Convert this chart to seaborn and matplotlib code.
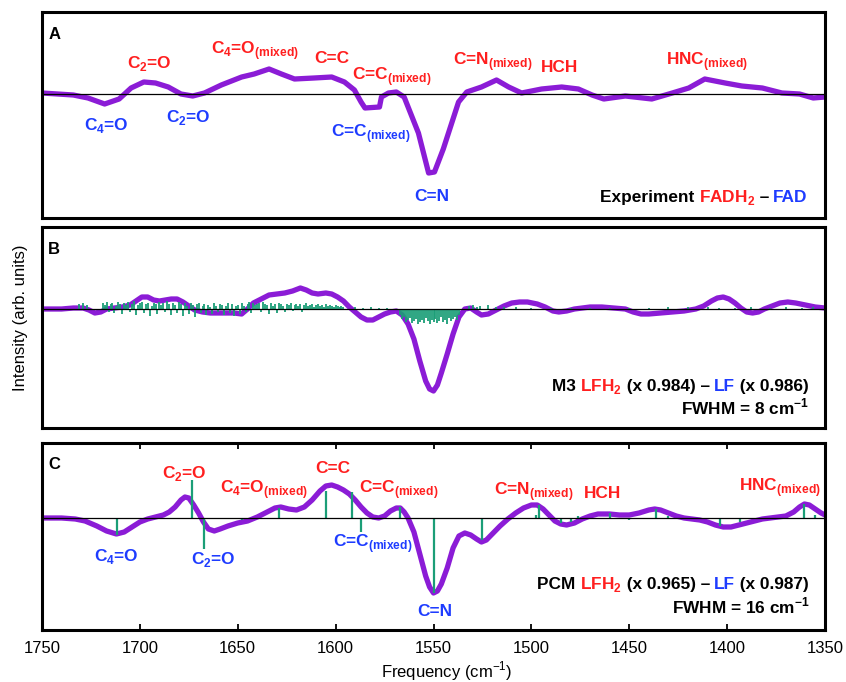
import matplotlib
matplotlib.use("Agg")
import matplotlib.pyplot as plt
import seaborn as sns
import pandas as pd
from matplotlib.transforms import offset_copy

sns.set_theme(style="white")
plt.rcParams['font.family'] = ['Liberation Sans', 'DejaVu Sans']

PURPLE = '#8B1CD6'
GREEN = '#1B9E77'
RED = '#FF1F1F'
BLUE = '#1E3CFF'

# ---------------- data (intensity in arbitrary units) ----------------
A_freq = [1750, 1734, 1726.5, 1718, 1710.6, 1704.5, 1698, 1692, 1685.5, 1679, 1673, 1667,
          1658.4, 1648, 1641.6, 1634, 1627.7, 1621, 1611, 1602, 1595.5, 1590.4, 1587, 1585,
          1577.6, 1576.6, 1573, 1569, 1565, 1557.7, 1552.5, 1549.5, 1545, 1537.2, 1533,
          1525.5, 1517.8, 1511.6, 1505, 1494.8, 1484.5, 1476, 1469, 1463, 1452, 1438.5,
          1428, 1419.6, 1411.4, 1401, 1392.5, 1382, 1372, 1363, 1356, 1350]
A_int = [1, -1, -4, -10, -5, 6, 12, 11, 7, 0, -2, 1,
         9, 17, 20, 25, 20, 15, 16, 17, 12, 4, -8, -14,
         -13, -3, 1, 2, -3, -39, -79, -78, -55, -8, 2,
         7, 14, 7, 1, 5, 7, 5, -1, -5, -2, -5,
         1, 6, 15, 11, 8, 6, 1, 0, -4, -3]

B_freq = [1750, 1740, 1734, 1729, 1726, 1723, 1720, 1717, 1713, 1709, 1705, 1702,
          1699, 1696, 1693, 1690, 1687, 1684, 1681, 1678, 1675, 1672, 1668, 1664,
          1658, 1652, 1648, 1645, 1642, 1638, 1634, 1630, 1626, 1622, 1618, 1615,
          1612, 1609, 1605, 1602, 1599, 1596, 1593, 1590, 1587, 1584, 1581, 1578,
          1575, 1572, 1569, 1566, 1563, 1560, 1557, 1554, 1552, 1550, 1548, 1546,
          1543, 1540, 1537, 1534, 1531, 1528, 1525.5, 1522, 1518, 1514, 1510, 1506,
          1502, 1497, 1493, 1489, 1486, 1482, 1478, 1474, 1470, 1464, 1458, 1452,
          1448, 1444, 1440, 1434, 1428, 1422, 1416, 1412, 1408, 1405, 1402, 1399,
          1396, 1393, 1390, 1387, 1384, 1381, 1377, 1373, 1369, 1365, 1360, 1355, 1350]
B_int = [0, 0, 1, 1, -1, -4, -3, 0, 1, 2, 4, 8,
         12, 12, 9, 8, 9, 10, 10, 7, 3, -1, -3, -4,
         -4, -4, -5, 0, 6, 10, 14, 15, 16, 18, 21, 19,
         16, 15, 16, 15, 12, 8, 2, -3, -8, -11, -11, -8,
         -5, -3, -2, -6, -15, -30, -52, -72, -80, -82, -76, -64,
         -45, -25, -8, 0, 1, -3, -6, -5, -1, 3, 6, 7,
         7, 5, 2, -2, -3, -2, 0, 1, 2, 2, 1, 0,
         -3, -5, -5, -4, -3, -2, 0, 3, 8, 11, 12, 10,
         6, 1, -3, -4, -3, 0, 3, 6, 7, 6, 4, 2, 1]

C_freq = [1750, 1740, 1733, 1728, 1722, 1717, 1712, 1708, 1704, 1700, 1696, 1692,
          1688, 1685, 1682, 1679, 1677, 1675, 1672.5, 1670, 1667.5, 1665, 1662, 1659,
          1655, 1650, 1645, 1640, 1635, 1631, 1628, 1624, 1620, 1616, 1612, 1608,
          1605, 1602, 1599, 1596, 1593, 1590, 1587, 1584, 1581, 1578, 1575, 1572,
          1569, 1567, 1565, 1563, 1560, 1557, 1554, 1552, 1550, 1548, 1546, 1543,
          1540, 1537, 1534, 1531, 1528, 1525.5, 1523, 1520, 1516, 1512, 1508, 1504,
          1500, 1497, 1494, 1491, 1488, 1485, 1482, 1478, 1474, 1470, 1466, 1460,
          1455, 1450, 1445, 1440, 1437, 1434, 1430, 1426, 1422, 1418, 1414, 1410,
          1406, 1402, 1398, 1394, 1390, 1386, 1382, 1378, 1374, 1370, 1366, 1363,
          1360.5, 1358, 1355, 1352, 1350]
C_int = [0, 0, -1, -3, -8, -13, -16, -14, -9, -4, -1, 1,
         3, 6, 11, 18, 21, 20, 13, 5, -4, -11, -13, -11,
         -8, -5, -3, 1, 6, 10, 11, 9, 8, 11, 18, 27,
         32, 33, 31, 28, 24, 18, 11, 5, 1, 0, 2, 7,
         10, 10, 6, 0, -14, -36, -58, -69, -75, -73, -66, -50,
         -30, -18, -15, -17, -21, -24, -22, -16, -8, -1, 5, 10,
         13, 13, 9, 3, -3, -6, -7, -5, -1, 2, 4, 4,
         3, 3, 5, 8, 9, 8, 5, 2, 0, -1, -2, -4,
         -7, -9, -9, -7, -5, -3, -1, 0, 1, 2, 6, 11,
         14, 13, 9, 5, 3]

# stick spectrum, panel B (M3)
B_stick_freq_1 = [1731, 1729, 1727]
B_stick_int_1 = [5, 6, 4]
B_stick_freq_2 = [1719, 1718, 1717, 1716, 1715, 1714, 1713, 1712, 1711, 1710,
                  1709, 1708, 1707, 1706, 1705, 1704, 1703, 1702, 1701, 1700,
                  1699, 1698, 1697, 1696, 1695, 1694, 1693, 1692, 1691, 1690,
                  1689, 1688, 1687, 1686, 1685, 1684, 1683, 1682, 1681, 1680,
                  1679, 1678, 1677, 1676, 1675, 1674, 1673, 1672, 1671, 1670,
                  1669, 1668, 1667, 1666, 1665, 1664, 1663, 1662, 1661, 1660,
                  1659, 1658, 1657, 1656, 1655, 1654, 1653, 1652, 1651, 1650,
                  1649, 1648, 1647, 1646, 1645, 1644, 1643, 1642, 1641, 1640,
                  1639, 1638, 1637, 1636, 1635, 1634, 1633, 1632, 1631, 1630,
                  1629, 1628, 1627, 1626, 1625, 1624, 1623, 1622, 1621, 1620,
                  1619, 1618, 1617, 1616, 1615, 1614, 1613, 1612, 1611, 1610,
                  1609, 1608, 1607, 1606, 1605, 1604, 1603, 1602, 1601, 1600,
                  1599, 1598, 1597, 1596]
B_stick_int_2 = [6, 4, 7, -3, 5, 6, -4, 3, 7, 5,
                 -5, 6, 4, 7, -3, 5, 8, -6, 4, 6,
                 7, -4, 5, 6, -7, 3, 6, 5, -5, 7,
                 4, 6, -3, 8, 5, -6, 6, 4, -4, 7,
                 5, -7, 6, 3, -5, 6, 4, -8, 5, 6,
                 -4, 3, 5, -6, 4, 2, -5, 6, 3, -3,
                 5, 4, -6, 3, 6, -4, 5, -7, 3, 4,
                 -5, 6, 3, -3, 5, 7, -4, 6, 4, 5,
                 6, -3, 7, 5, 4, -5, 6, 3, 5, -4,
                 6, 5, 3, -3, 5, 4, 6, -2, 4, 5,
                 3, 5, -3, 4, 6, 3, 4, 5, 2, 4,
                 5, 3, 4, 2, 5, 3, 4, 3, 2, 4,
                 3, 2, 3, 2]
B_stick_freq_3 = [1590, 1586, 1582, 1578, 1574,
                  1567, 1566, 1565, 1564, 1563, 1562, 1561, 1560, 1559, 1558,
                  1557, 1556, 1555, 1554, 1553, 1552, 1551, 1550, 1549, 1548,
                  1547, 1546, 1545, 1544, 1543, 1542, 1541, 1540, 1539, 1538, 1537]
B_stick_int_3 = [2, 1, 2, 1, 1,
                 -6, -10, -8, -13, -11, -9, -14, -12, -10, -15,
                 -13, -11, -14, -9, -12, -15, -11, -13, -10, -14,
                 -12, -8, -13, -11, -15, -9, -12, -10, -8, -11, -6]
B_stick_freq_4 = [1532, 1530, 1528, 1526, 1522, 1518, 1514, 1508, 1500, 1490, 1480, 1470,
                  1460, 1450, 1440, 1430, 1420, 1410, 1404, 1396, 1388, 1378, 1370, 1362, 1356]
B_stick_int_4 = [3, 4, 2, 3, 4, 2, 2, 2, 1, 1, 1, 1,
                 1, 1, 1, 2, 2, 2, 1, 1, 2, 1, 2, 1, 2]
B_stick_freq = B_stick_freq_1 + B_stick_freq_2 + B_stick_freq_3 + B_stick_freq_4
B_stick_int = B_stick_int_1 + B_stick_int_2 + B_stick_int_3 + B_stick_int_4

# stick spectrum, panel C (PCM)
C_stick_freq = [1711.6, 1673.3, 1667.2, 1648, 1629, 1605, 1591.4, 1587, 1567, 1549.5,
                1525, 1497.5, 1496.3, 1485, 1480, 1476, 1460, 1450, 1436.5, 1430,
                1403.7, 1393.5, 1360.7, 1355]
C_stick_int = [-17, 38, -31, -2, 10, 27, 26, -14, 11, -75,
               -22, 3, 13, -5, -4, 2, 5, -2, 9, 2,
               -8, -4, 14, 3]

x_ticks = [1750, 1700, 1650, 1600, 1550, 1500, 1450, 1400, 1350]

# labels: (text, freq, baseline height, colour)
A_labels = [("C$_\\mathregular{2}$=O", 1695.3, 26, RED),
            ("C$_\\mathregular{4}$=O", 1717.3, -36, BLUE),
            ("C$_\\mathregular{2}$=O", 1675.3, -28, BLUE),
            ("C$_\\mathregular{4}$=O$_\\mathregular{(mixed)}$", 1641, 40, RED),
            ("C=C", 1602.2, 31, RED),
            ("C=C$_\\mathregular{(mixed)}$", 1571.5, 14, RED),
            ("C=C$_\\mathregular{(mixed)}$", 1582.2, -43, BLUE),
            ("C=N", 1551, -107, BLUE),
            ("C=N$_\\mathregular{(mixed)}$", 1519.8, 29, RED),
            ("HCH", 1485.5, 22, RED),
            ("HNC$_\\mathregular{(mixed)}$", 1410.4, 29, RED)]
C_labels = [("C$_\\mathregular{2}$=O", 1677.4, 40, RED),
            ("C$_\\mathregular{4}$=O", 1712.1, -43, BLUE),
            ("C$_\\mathregular{2}$=O", 1662.5, -46, BLUE),
            ("C$_\\mathregular{4}$=O$_\\mathregular{(mixed)}$", 1636.4, 25, RED),
            ("C=C", 1601.2, 45, RED),
            ("C=C$_\\mathregular{(mixed)}$", 1568, 25, RED),
            ("C=C$_\\mathregular{(mixed)}$", 1581.2, -29, BLUE),
            ("C=N", 1549.5, -98, BLUE),
            ("C=N$_\\mathregular{(mixed)}$", 1498.8, 23, RED),
            ("HCH", 1463.6, 20, RED),
            ("HNC$_\\mathregular{(mixed)}$", 1373, 27, RED)]

# ---------------- figure ----------------
W, H = 846, 682
fig = plt.figure(figsize=(W / 100, H / 100), dpi=100)


def add_ax(top, bottom, left=42, right=825):
    return fig.add_axes([left / W, (H - bottom) / H, (right - left) / W, (bottom - top) / H])


axA = add_ax(12, 218)
axB = add_ax(227, 428)
axC = add_ax(443, 630)

ylims = {axA: (-124, 82), axB: (-119, 82), axC: (-112, 75)}

for ax, fr, it in [(axA, A_freq, A_int), (axB, B_freq, B_int), (axC, C_freq, C_int)]:
    df = pd.DataFrame({'freq': fr, 'intensity': it})
    sns.lineplot(data=df, x='freq', y='intensity', ax=ax, color=PURPLE, linewidth=3.8,
                 estimator=None, zorder=2, solid_joinstyle='round', solid_capstyle='round')
    ax.set_xlim(1750, 1350)
    ax.set_ylim(*ylims[ax])
    ax.set_xlabel('')
    ax.set_ylabel('')
    ax.set_yticks([])
    for sp in ax.spines.values():
        sp.set_linewidth(2.2)
        sp.set_color('black')
    ax.axhline(0, color='black', lw=0.9, zorder=4)

axB.vlines(B_stick_freq, 0, B_stick_int, color=GREEN, lw=1.3, zorder=3)
axC.vlines(C_stick_freq, 0, C_stick_int, color=GREEN, lw=1.6, zorder=3)

axA.set_xticks([])
axB.set_xticks([])
axC.set_xticks(x_ticks)
axC.set_xticklabels([str(t) for t in x_ticks])
axC.tick_params(axis='x', direction='in', top=True, bottom=True, length=4, width=1.3,
                labelsize=12, pad=8, colors='black')

LFS = 12.4
for ax, labs in [(axA, A_labels), (axC, C_labels)]:
    for s, f, y, c in labs:
        ax.text(f, y, s, color=c, ha='center', va='baseline', fontsize=LFS, fontweight='bold')

for ax, letter in [(axA, 'A'), (axB, 'B'), (axC, 'C')]:
    ax.text(0.008, 0.925, letter, transform=ax.transAxes, ha='left', va='top',
            fontsize=12, fontweight='bold', color='black')

fig.canvas.draw()
renderer = fig.canvas.get_renderer()


def measure(s):
    t = fig.text(0, 0, s, fontsize=LFS, fontweight='bold')
    w = t.get_window_extent(renderer).width
    t.remove()
    return w


bar_w = measure('|')


def colored_line(ax, pieces, xr, yb):
    full = ''.join(p for p, _ in pieces)
    total = measure(full)
    prefix = ''
    for s, c in pieces:
        off = (measure(prefix + '|') - bar_w) if prefix else 0.0
        tr = offset_copy(ax.transAxes, fig=fig, x=off - total, y=0, units='dots')
        ax.text(xr, yb, s, transform=tr, color=c, ha='left', va='baseline',
                fontsize=LFS, fontweight='bold')
        prefix += s


colored_line(axA, [("Experiment ", 'black'), ("FADH$_\\mathregular{2}$", RED),
                   (" \u2013 ", 'black'), ("FAD", BLUE)], 0.98, 0.078)
colored_line(axB, [("M3 ", 'black'), ("LFH$_\\mathregular{2}$", RED),
                   (" (x 0.984) \u2013 ", 'black'), ("LF", BLUE), (" (x 0.986)", 'black')],
             0.98, 0.182)
colored_line(axB, [("FWHM = 8 cm$^\\mathregular{-1}$", 'black')], 0.98, 0.068)
colored_line(axC, [("PCM ", 'black'), ("LFH$_\\mathregular{2}$", RED),
                   (" (x 0.965) \u2013 ", 'black'), ("LF", BLUE), (" (x 0.987)", 'black')],
             0.98, 0.218)
colored_line(axC, [("FWHM = 16 cm$^\\mathregular{-1}$", 'black')], 0.98, 0.090)

fig.text(20 / W, 1 - 318 / H, 'Intensity (arb. units)', rotation=90, ha='center',
         va='center', fontsize=12, color='black')
fig.text(447 / W, 1 - 671 / H, 'Frequency (cm$^\\mathregular{-1}$)', ha='center',
         va='center', fontsize=12, color='black')

fig.savefig('out.png', dpi=100)
